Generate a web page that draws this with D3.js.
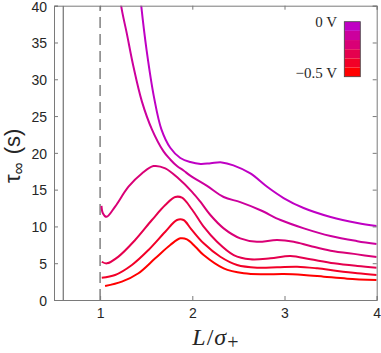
<!DOCTYPE html>
<html><head><meta charset="utf-8">
<script src="https://cdn.jsdelivr.net/npm/d3@7"></script>
<style>body{margin:0;background:#fff}svg{display:block}</style>
</head><body><svg id="c" width="381" height="353"></svg>
<script>
// ---- data ----
const voltages = [0, -0.1, -0.2, -0.3, -0.4, -0.5];
const xA = [1.42, 1.446, 1.505, 1.587, 1.665, 1.761, 1.87, 1.978, 2.09, 2.2, 2.32, 2.446, 2.63, 2.815, 2.99, 3.207, 3.50, 3.79, 4.0];
const yA = [43.5, 40, 33.9, 27.4, 23.2, 20.7, 19.3, 18.75, 18.5, 18.6, 18.7, 18.3, 17.2, 15.35, 13.86, 12.5, 11.28, 10.46, 10.05];
const xB = [1.20, 1.228, 1.29, 1.362, 1.453, 1.562, 1.688, 1.761, 1.834, 1.905, 1.978, 2.16, 2.34, 2.52, 2.74, 2.957, 3.21, 3.50, 3.79, 4.0];
const yB = [43.5, 40, 36.2, 31.7, 27.0, 23.2, 20.2, 19.1, 18.2, 17.6, 16.9, 15.5, 14.0, 13.3, 12.2, 10.87, 9.74, 8.7, 8.0, 7.6];
const xC = [1.015, 1.03, 1.07, 1.163, 1.308, 1.453, 1.579, 1.707, 1.851, 1.997, 2.087, 2.196, 2.34, 2.52, 2.70, 2.92, 3.10, 3.28, 3.50, 3.79, 4.0];
const yC = [12.8, 11.8, 11.3, 12.7, 15.4, 17.2, 18.2, 17.9, 16.5, 14.7, 13.36, 11.55, 9.74, 8.38, 7.92, 8.15, 7.92, 7.34, 6.7, 6.2, 5.84];
const xD = [1.018, 1.073, 1.199, 1.38, 1.562, 1.707, 1.815, 1.888, 1.997, 2.123, 2.268, 2.449, 2.63, 2.848, 3.065, 3.28, 3.536, 3.79, 4.0];
const yD = [5.2, 4.98, 5.9, 8.15, 10.87, 12.9, 14.0, 13.9, 12.3, 9.96, 7.92, 6.11, 5.53, 5.66, 5.98, 5.53, 4.98, 4.62, 4.39];
const xE = [1.018, 1.163, 1.345, 1.525, 1.707, 1.834, 1.905, 1.99, 2.123, 2.304, 2.486, 2.703, 2.92, 3.137, 3.355, 3.573, 3.79, 4.0];
const yE = [3.03, 3.4, 4.76, 6.8, 9.28, 10.87, 10.87, 9.6, 7.7, 5.88, 4.76, 4.39, 4.44, 4.53, 4.3, 3.94, 3.63, 3.4];
const xF = [1.054, 1.236, 1.416, 1.598, 1.761, 1.87, 1.942, 2.033, 2.123, 2.34, 2.558, 2.775, 2.99, 3.21, 3.427, 3.68, 4.0];
const yF = [1.9, 2.49, 3.63, 5.66, 7.47, 8.38, 8.24, 7.24, 6.11, 4.3, 3.63, 3.49, 3.53, 3.4, 3.17, 2.9, 2.72];
const seriesX = [xA, xB, xC, xD, xE, xF];
const seriesY = [yA, yB, yC, yD, yE, yF];
const xTicks = [1, 2, 3, 4];
const yTicks = [0, 5, 10, 15, 20, 25, 30, 35, 40];
const xDomain = [0.5, 4];
const yDomain = [0, 40];
const solidLineX = 0.6;
const dashedLineX = 1;
const cbarLabels = ["0 V", "\u22120.5 V"];

// ---- layout ----
const L = 54, R = 376.7, T = 5.7, B = 300;
const svg = d3.select("#c");
const x = d3.scaleLinear().domain(xDomain).range([L, R]);
const y = d3.scaleLinear().domain(yDomain).range([B, T]);
const color = d3.scaleLinear().domain([-0.5, 0]).range(["#ff0000", "#bf00c4"]);
const axisColor = "#7a7a7a";

svg.append("defs").append("clipPath").attr("id", "clip")
  .append("rect").attr("x", L).attr("y", T).attr("width", R - L).attr("height", B - T);

const g = svg.append("g").attr("clip-path", "url(#clip)");

// vertical reference lines
g.append("line").attr("x1", x(solidLineX)).attr("x2", x(solidLineX))
  .attr("y1", y(yDomain[0])).attr("y2", y(yDomain[1]))
  .attr("stroke", "#555").attr("stroke-width", 1);
g.append("line").attr("x1", x(dashedLineX)).attr("x2", x(dashedLineX))
  .attr("y1", y(yDomain[0])).attr("y2", y(yDomain[1]))
  .attr("stroke", "#808080").attr("stroke-width", 1.5).attr("stroke-dasharray", "11,6");

const line = d3.line().x(d => x(d[0])).y(d => y(d[1])).curve(d3.curveCatmullRom.alpha(0.5));
seriesX.forEach((xs, i) => {
  const pts = xs.map((v, j) => [v, seriesY[i][j]]);
  g.append("path").attr("d", line(pts)).attr("fill", "none")
    .attr("stroke", color(voltages[i])).attr("stroke-width", 2);
});

// axes
const font = "'Liberation Sans', Arial, Helvetica, sans-serif";
const axB = svg.append("g").attr("transform", `translate(0,${B})`)
  .call(d3.axisBottom(x).tickValues(xTicks).tickSize(-4).tickPadding(8).tickFormat(d3.format("d")));
const axT = svg.append("g").attr("transform", `translate(0,${T})`)
  .call(d3.axisTop(x).tickValues(xTicks).tickSize(-4).tickFormat(""));
const axL = svg.append("g").attr("transform", `translate(${L},0)`)
  .call(d3.axisLeft(y).tickValues(yTicks).tickSize(-4).tickPadding(7).tickFormat(d3.format("d")));
const axR = svg.append("g").attr("transform", `translate(${R},0)`)
  .call(d3.axisRight(y).tickValues(yTicks).tickSize(-4).tickFormat(""));
[axB, axT, axL, axR].forEach(a => {
  a.selectAll("path").attr("stroke", axisColor).attr("stroke-width", 1);
  a.selectAll("line").attr("stroke", axisColor);
  a.selectAll("text").attr("fill", "#262626").style("font-family", font).style("font-size", "14px");
});
axL.selectAll("text").attr("dy", "0.38em");

// x label: L/σ+
const serif = "'Liberation Serif', 'DejaVu Serif', serif";
const xl = svg.append("text").attr("x", (L + R) / 2).attr("y", 345).attr("text-anchor", "middle")
  .style("font-family", serif).style("font-size", "24px").attr("fill", "#262626");
xl.append("tspan").style("font-style", "italic").text("L");
xl.append("tspan").attr("dx", 1).text("/");
xl.append("tspan").attr("dx", 1).style("font-style", "italic").text("\u03C3");
xl.append("tspan").attr("dx", 1).attr("dy", 4).style("font-size", "20px").text("+");

// y label: τ∞ (s)
const yl = svg.append("text").attr("transform", `translate(20,${(T + B) / 2 + 3}) rotate(-90)`)
  .attr("text-anchor", "middle").style("font-family", font).style("font-size", "22px").attr("fill", "#262626");
yl.append("tspan").text("\u03C4");
yl.append("tspan").attr("dy", 4).style("font-size", "17px").text("\u221E");
yl.append("tspan").attr("dy", -4).attr("dx", 8).text("(s)");

// colorbar
const cbX = 344.3, cbW = 16, cbTop = 21.7, cbBot = 76.7;
const cy = d3.scaleLinear().domain([-0.55, 0.05]).range([cbBot, cbTop]);
voltages.forEach(v => {
  svg.append("rect").attr("x", cbX).attr("width", cbW)
    .attr("y", cy(v + 0.05)).attr("height", cy(v - 0.05) - cy(v + 0.05))
    .attr("fill", color(v));
});
svg.append("rect").attr("x", cbX).attr("y", cbTop).attr("width", cbW).attr("height", cbBot - cbTop)
  .attr("fill", "none").attr("stroke", "#444").attr("stroke-width", 0.8);
svg.append("text").attr("x", 337).attr("y", 27).attr("text-anchor", "end")
  .style("font-family", serif).style("font-size", "15px").attr("fill", "#262626").text(cbarLabels[0]);
svg.append("text").attr("x", 337).attr("y", 77.5).attr("text-anchor", "end")
  .style("font-family", serif).style("font-size", "15px").attr("fill", "#262626").text(cbarLabels[1]);
</script></body></html>
